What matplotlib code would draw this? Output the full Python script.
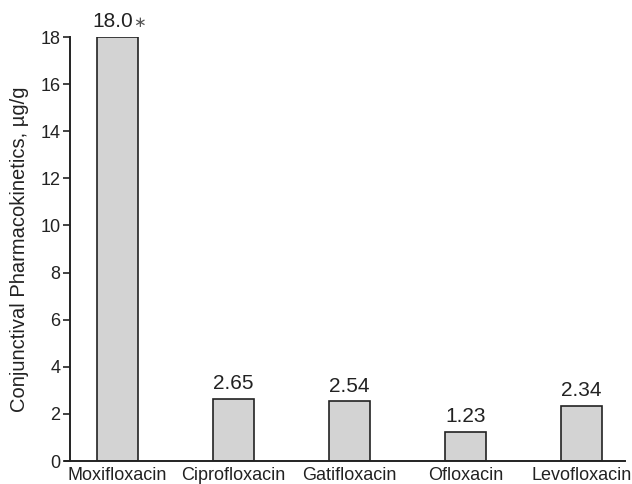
import matplotlib
matplotlib.use("Agg")
import matplotlib.pyplot as plt

categories = ["Moxifloxacin", "Ciprofloxacin", "Gatifloxacin", "Ofloxacin", "Levofloxacin"]
values = [18.0, 2.65, 2.54, 1.23, 2.34]
labels = ["18.0", "2.65", "2.54", "1.23", "2.34"]
yticks = [0, 2, 4, 6, 8, 10, 12, 14, 16, 18]

plt.rcParams['font.family'] = ['Liberation Sans', 'DejaVu Sans']

fig = plt.figure(figsize=(6.32, 4.84), dpi=100)
ax = fig.add_axes([70/632, 1-461/484, (625-70)/632, (461-37)/484])

x = list(range(len(categories)))
ax.bar(x, values, width=0.35, color="#d3d3d3", edgecolor="#222222", linewidth=1.2, zorder=2)

for i, (xi, v, lab) in enumerate(zip(x, values, labels)):
    if i == 0:
        # first label carries an asterisk; the pair is centred on the bar
        ax.annotate(lab, xy=(xi, v), xytext=(11.5, 4), textcoords="offset points",
                    ha="right", va="bottom", fontsize=15, color="#222222",
                    annotation_clip=False)
        ax.annotate("\u2217", xy=(xi, v), xytext=(15.5, 10.5), textcoords="offset points",
                    ha="center", va="center", fontsize=11, color="#555555",
                    family="DejaVu Sans", annotation_clip=False)
    else:
        ax.annotate(lab, xy=(xi, v), xytext=(0, 4), textcoords="offset points",
                    ha="center", va="bottom", fontsize=15, color="#222222",
                    annotation_clip=False)

ax.set_xlim(-0.41, 4.375)
ax.set_ylim(0, 18)
ax.set_yticks(yticks)
ax.set_xticks(x)
ax.set_xticklabels(categories, fontsize=13, color="#222222")
ax.tick_params(axis="x", length=0, pad=4.5)
ax.tick_params(axis="y", length=5, width=1.2, labelsize=13, colors="#222222", pad=2)
ax.set_ylabel("Conjunctival Pharmacokinetics, µg/g", fontsize=14.5, color="#222222", labelpad=8)

for s in ["top", "right"]:
    ax.spines[s].set_visible(False)
for s in ["left", "bottom"]:
    ax.spines[s].set_linewidth(1.4)
    ax.spines[s].set_color("#222222")
ax.spines["bottom"].set_bounds(-0.41 - 5/116, 4.375)
ax.spines["bottom"].set_clip_on(False)

fig.savefig("out.png", dpi=100)
